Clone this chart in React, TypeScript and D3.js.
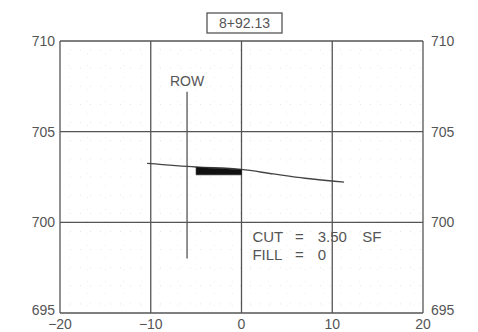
import React from "react";
import * as d3 from "d3";

const stationLabel = "8+92.13";
const xTicks = [-20, -10, 0, 10, 20];
const yTicks = [695, 700, 705, 710];
const groundX = [-10.4, -5, 0, 3.5, 7, 11.3];
const groundY = [703.25, 703.05, 702.92, 702.67, 702.43, 702.22];
const pavementX = [-5, 0];
const pavementBottom = [702.62, 702.62];
const rowX = -6;
const rowYRange = [698, 707.2];
const cutLine = ["CUT", "=", "3.50", "SF"];
const fillLine = ["FILL", "=", "0"];

const W = 478;
const H = 332;

export default function App() {
  const x = d3.scaleLinear().domain([-20, 20]).range([60, 423]);
  const y = d3.scaleLinear().domain([695, 710]).range([313, 41]);
  const ink = "#555";
  const font = "'Liberation Sans', Arial, sans-serif";

  const groundPts: [number, number][] = groundX.map((gx, i) => [gx, groundY[i]]);
  const line = d3
    .line<[number, number]>()
    .x((d) => x(d[0]))
    .y((d) => y(d[1]))
    .curve(d3.curveMonotoneX);
  const groundAt = (gx: number) => {
    const f = d3.scaleLinear().domain(groundX).range(groundY);
    return f(gx);
  };
  const pavPts: [number, number][] = [
    [pavementX[0], groundAt(pavementX[0]) - 0.02],
    [pavementX[1], groundAt(pavementX[1]) - 0.02],
    [pavementX[1], pavementBottom[1]],
    [pavementX[0], pavementBottom[0]],
  ];
  const pavPath = d3.line<[number, number]>().x((d) => x(d[0])).y((d) => y(d[1]))(pavPts) + "Z";

  const minorY = d3.range(695.5, 710, 1);
  const minorX = d3.range(-19, 20, 2);

  const cutXs = [1.2, 5.9, 8.4, 13.3];
  const fillXs = [1.2, 5.9, 8.4];

  const labelShift = (t: number) => (t === 695 ? -3 : 0);

  return (
    <svg
      width={W}
      height={H}
      style={{ position: "absolute", left: 0, top: 0, background: "#fff" }}
      fontFamily={font}
    >
      <rect x={0} y={0} width={W} height={H} fill="#fff" />
      {minorY.map((v) => (
        <line
          key={"my" + v}
          x1={x(-20)}
          x2={x(20)}
          y1={y(v)}
          y2={y(v)}
          stroke="#e4e4e4"
          strokeWidth={1}
          strokeDasharray="1 9"
        />
      ))}
      {minorX.map((v) => (
        <line
          key={"mx" + v}
          x1={x(v)}
          x2={x(v)}
          y1={y(710)}
          y2={y(695)}
          stroke="#ececec"
          strokeWidth={1}
          strokeDasharray="1 11"
        />
      ))}
      {xTicks.map((t) => (
        <line key={"gx" + t} x1={x(t)} x2={x(t)} y1={y(710)} y2={y(695)} stroke={ink} strokeWidth={1.3} />
      ))}
      {yTicks.map((t) => (
        <line key={"gy" + t} x1={x(-20)} x2={x(20)} y1={y(t)} y2={y(t)} stroke={ink} strokeWidth={1.3} />
      ))}
      {yTicks.map((t) => (
        <text key={"ly" + t} x={x(-20) - 5} y={y(t) + labelShift(t)} dy="0.36em" textAnchor="end" fontSize={14} fill={ink}>
          {t}
        </text>
      ))}
      {yTicks.map((t) => (
        <text key={"ry" + t} x={x(20) + 8} y={y(t) + labelShift(t)} dy="0.36em" textAnchor="start" fontSize={14} fill={ink}>
          {t}
        </text>
      ))}
      {xTicks.map((t) => (
        <text key={"lx" + t} x={x(t)} y={y(695) + 16} textAnchor="middle" fontSize={14} fill={ink}>
          {t < 0 ? "\u2212" + Math.abs(t) : t}
        </text>
      ))}
      <rect x={207} y={13} width={75} height={20} fill="#fff" stroke={ink} strokeWidth={1.3} />
      <text x={244.5} y={28} textAnchor="middle" fontSize={14} fill={ink}>
        {stationLabel}
      </text>
      <line x1={x(rowX)} x2={x(rowX)} y1={y(rowYRange[0])} y2={y(rowYRange[1])} stroke={ink} strokeWidth={1.3} />
      <text x={x(rowX)} y={y(rowYRange[1]) - 6} textAnchor="middle" fontSize={14} fill={ink}>
        ROW
      </text>
      <path d={line(groundPts) || ""} fill="none" stroke="#444" strokeWidth={1.4} />
      <path d={pavPath} fill="#111" stroke="#111" strokeWidth={0.6} />
      {cutLine.map((s, i) => (
        <text key={"c" + i} x={x(cutXs[i])} y={y(698.9)} fontSize={15} fill={ink}>
          {s}
        </text>
      ))}
      {fillLine.map((s, i) => (
        <text key={"f" + i} x={x(fillXs[i])} y={y(697.9)} fontSize={15} fill={ink}>
          {s}
        </text>
      ))}
    </svg>
  );
}
